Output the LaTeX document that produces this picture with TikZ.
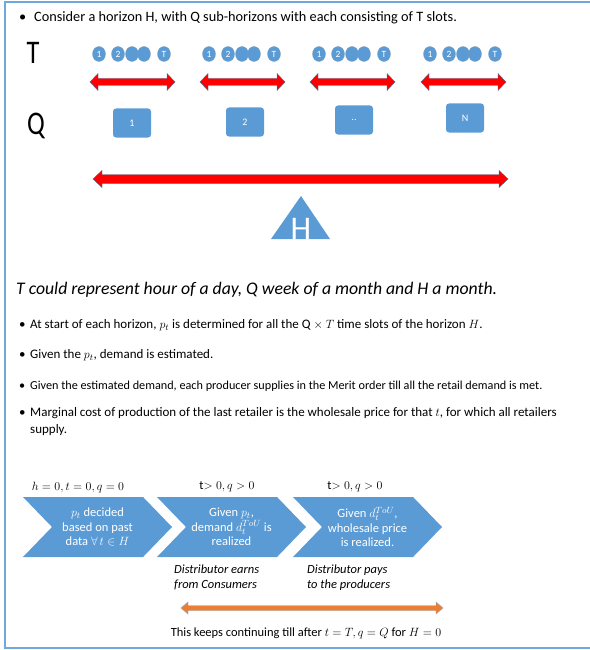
\documentclass[tikz,border=0pt]{standalone}
\usepackage{amsmath, amssymb}
\usepackage{fontspec}
\setmainfont{Carlito}
\usepackage{tikz}
\usetikzlibrary{shapes.geometric, shapes.symbols}
\definecolor{offblue}{HTML}{5B9BD5}
\definecolor{edgeblue}{HTML}{41719C}
\definecolor{offorange}{HTML}{ED7D31}
\definecolor{framec}{HTML}{6FA8DC}

% block arrow with two heads: x1, x2, y, half shaft, half head, head length, style
\newcommand{\blockarrow}[7]{%
  \filldraw[#7] (#1,#3) -- ({#1+#6},{#3-#5}) -- ({#1+#6},{#3-#4}) -- ({#2-#6},{#3-#4})
    -- ({#2-#6},{#3-#5}) -- (#2,#3) -- ({#2-#6},{#3+#5}) -- ({#2-#6},{#3+#4})
    -- ({#1+#6},{#3+#4}) -- ({#1+#6},{#3+#5}) -- cycle;}

\begin{document}
\begin{tikzpicture}[x=1pt, y=-1pt,
    slot/.style={ellipse, fill=offblue, draw=edgeblue!70, line width=0.3pt, minimum width=13pt, minimum height=15pt, inner sep=0pt, text=white, font=\fontsize{9.5}{9.5}\selectfont},
    qbox/.style={rectangle, rounded corners=3pt, fill=offblue, minimum width=38pt, minimum height=29pt, text=white, font=\fontsize{10}{10}\selectfont},
    chev/.style={signal, signal from=west, signal to=east, signal pointer angle=92, fill=offblue, minimum width=149pt, minimum height=60pt, inner sep=0pt, text=white, align=center, font=\fontsize{12.5}{14.6}\selectfont},
    item/.style={anchor=west, inner sep=0pt, align=left, font=\fontsize{13}{17}\selectfont},
    note/.style={anchor=north west, inner sep=0pt, align=left, font=\fontsize{12.5}{15}\selectfont\itshape},
    label/.style={font=\fontsize{12.5}{13}\selectfont},
    big/.style={inner sep=0pt, font=\fontsize{33}{33}\selectfont},
    redarrow/.style={fill=red, draw=edgeblue, line width=0.4pt}]
    \useasboundingbox (0,0) rectangle (589,650);

    % frame
    \draw[framec, line width=1.8pt] (592,2) -- (5,2) -- (5,648) -- (592,648);

    \node[item, font=\fontsize{14.3}{16}\selectfont] (intro) at (19,18) {\makebox[15pt][l]{\textbullet}Consider a horizon H, with Q sub-horizons with each consisting of T slots.};

    \node[big] (tlabel) at (33,53) {\scalebox{0.8}[1]{T}};
    \node[big] (qlabel) at (36,126) {\scalebox{0.8}[1]{Q}};

    % slots of each sub-horizon
    \foreach \g/\x in {1/99, 2/209, 3/319, 4/430} {
        \node[slot] (t\g-1) at (\x,54) {1};
        \node[slot] (t\g-2) at (\x+19,54) {2};
        \node[slot] (t\g-3) at (\x+33,54) {};
        \node[slot] (t\g-4) at (\x+45,54) {};
        \node[slot] (t\g-5) at (\x+65,54) {T};
        \blockarrow{\x-9}{\x+76}{82}{3.5}{8.5}{8}{redarrow}
    }

    \node[qbox] (q1) at (132,123) {1};
    \node[qbox] (q2) at (245,122) {2};
    \node[qbox] (q3) at (354,120) {..};
    \node[qbox] (q4) at (465,118) {N};

    \blockarrow{93}{508}{179}{4.5}{8.5}{9}{redarrow}
    \fill[offblue] (301,196) -- (330,239) -- (271,239) -- cycle;
    \node[big, text=white, anchor=base] (hlabel) at (301,239.5) {H};

    \node[anchor=west, inner sep=0pt, font=\fontsize{17.7}{20}\selectfont\itshape] (meaning) at (16,290) {T could represent hour of a day, Q week of a month and H a month.};

    \node[item] (b1) at (19,325) {\makebox[11pt][l]{\textbullet}At start of each horizon, $p_t$ is determined for all the Q $\times$ $T$ time slots of the horizon $H$.};
    \node[item] (b2) at (19,355) {\makebox[11pt][l]{\textbullet}Given the $p_t$, demand is estimated.};
    \node[item, font=\fontsize{12.2}{17}\selectfont] (b3) at (19,386) {\makebox[11pt][l]{\textbullet}Given the estimated demand, each producer supplies in the Merit order till all the retail demand is met.};
    \node[item, anchor=north west] (b4) at (19,407) {\makebox[11pt][l]{\textbullet}Marginal cost of production of the last retailer is the wholesale price for that $t$, for which all retailers\\\hspace*{11pt}supply.};

    % process chevrons
    \node[label] (l1) at (78,487) {$h=0,t=0,q=0$};
    \node[label] (l2) at (227,487) {t$>0,q>0$};
    \node[label] (l3) at (355,487) {t$>0,q>0$};
    \node[chev] (c1) at (97.5,527) {$p_t$ decided\\based on past\\data $\forall\,t\in H$};
    \node[chev] (c2) at (231.5,527) {Given $p_t$,\\demand $d_t^{ToU}$ is\\realized};
    \node[chev] (c3) at (367.5,527) {Given $d_t^{ToU}$,\\wholesale price\\is realized.};

    \node[note] (n1) at (174,565) {Distributor earns\\from Consumers};
    \node[note] (n2) at (307,565) {Distributor pays\\to the producers};

    \blockarrow{181}{443}{608}{2.5}{6}{7}{fill=offorange, draw=edgeblue!60, line width=0.4pt}
    \node[label] (loop) at (306,633) {This keeps continuing till after $t=T,q=Q$ for $H=0$};
\end{tikzpicture}
\end{document}
